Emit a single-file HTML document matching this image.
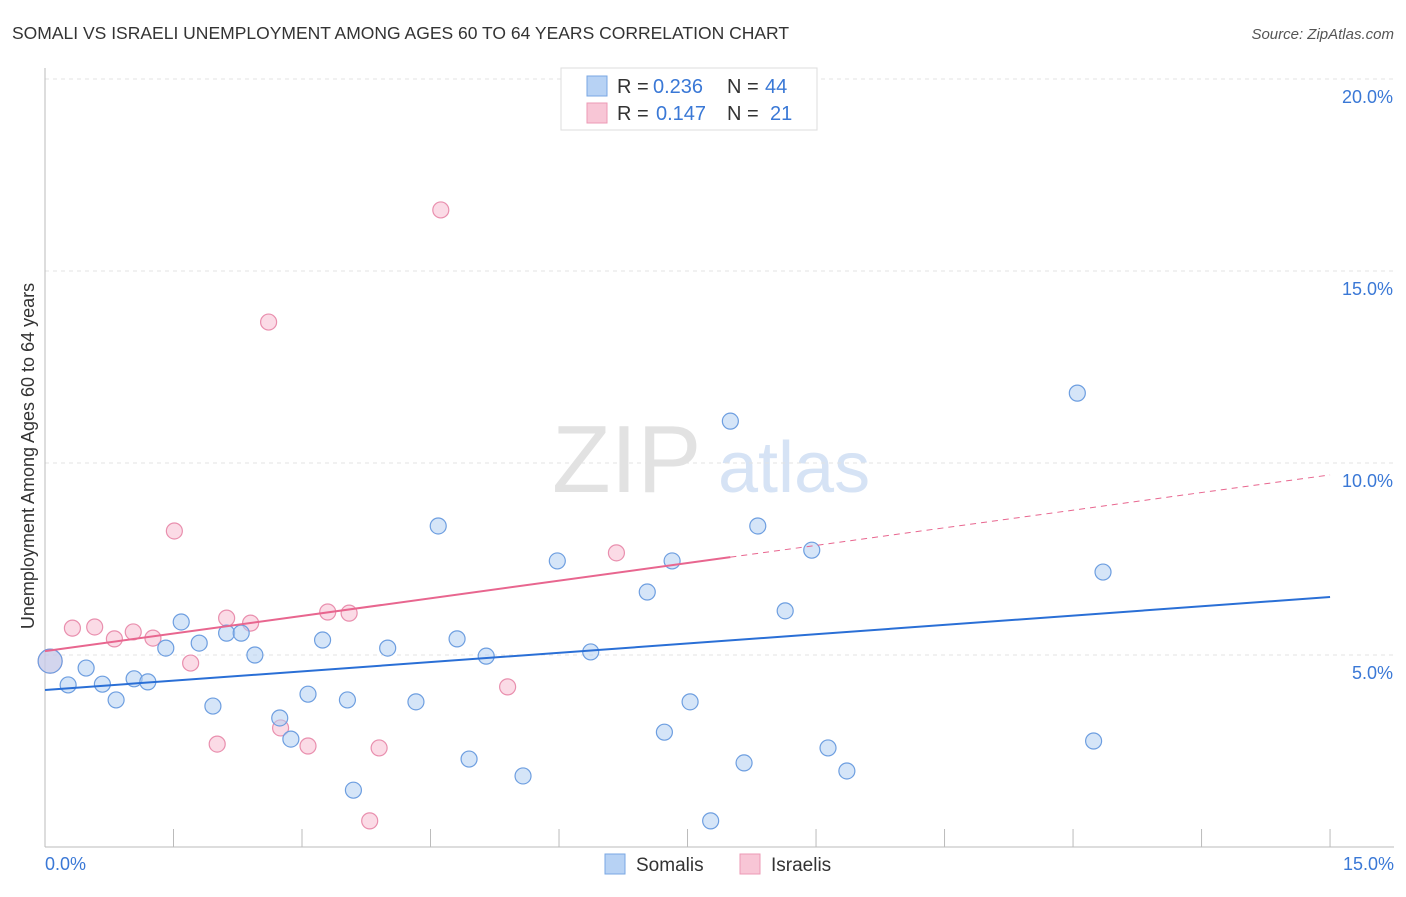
<!DOCTYPE html>
<html><head><meta charset="utf-8"><style>
body{margin:0;background:#fff;font-family:"Liberation Sans",sans-serif}
svg text{font-family:"Liberation Sans",sans-serif}
</style></head><body>
<svg width="1406" height="892" xmlns="http://www.w3.org/2000/svg">
<text x="12" y="39" font-size="17.5" fill="#333">SOMALI VS ISRAELI UNEMPLOYMENT AMONG AGES 60 TO 64 YEARS CORRELATION CHART</text>
<text x="1394" y="39" font-size="15" fill="#555" text-anchor="end" font-style="italic">Source: ZipAtlas.com</text>
<text x="552" y="492" font-size="96" fill="#e2e2e2" font-family="Liberation Serif">ZIP</text>
<text x="718" y="492" font-size="72" fill="#d6e3f5">atlas</text>
<g id="grid"></g>
<g id="axes"></g>
<g id="marks"></g>
<text transform="translate(34,456) rotate(-90)" font-size="18" fill="#333" text-anchor="middle">Unemployment Among Ages 60 to 64 years</text>
<g>
<rect x="561" y="68" width="256" height="62" fill="#fff" stroke="#ddd"/>
<rect x="587" y="76" width="20" height="20" fill="#b7d2f4" stroke="#7aa7e3"/>
<text x="617" y="93" font-size="20" fill="#333">R = </text><text x="653" y="93" font-size="20" fill="#3a78d6">0.236</text>
<text x="727" y="93" font-size="20" fill="#333">N = </text><text x="765" y="93" font-size="20" fill="#3a78d6">44</text>
<rect x="587" y="103" width="20" height="20" fill="#f8c6d6" stroke="#ec9ab5"/>
<text x="617" y="120" font-size="20" fill="#333">R = </text><text x="656" y="120" font-size="20" fill="#3a78d6">0.147</text>
<text x="727" y="120" font-size="20" fill="#333">N = </text><text x="770" y="120" font-size="20" fill="#3a78d6">21</text>
</g>
<g>
<rect x="605" y="854" width="20" height="20" fill="#b7d2f4" stroke="#7aa7e3"/>
<text x="636" y="871" font-size="19" fill="#333">Somalis</text>
<rect x="740" y="854" width="20" height="20" fill="#f8c6d6" stroke="#ec9ab5"/>
<text x="771" y="871" font-size="19" fill="#333">Israelis</text>
</g>
</svg>
<script>
const yTicks=[5,10,15,20];
const yTickLabels=["5.0%","10.0%","15.0%","20.0%"];
const xTickLabels=["0.0%","15.0%"];
const blueX=[0.06,0.27,0.48,0.67,0.83,1.04,1.20,1.41,1.59,1.80,1.96,2.12,2.29,2.45,2.74,2.87,3.07,3.24,3.53,3.60,4.00,4.33,4.59,4.81,4.95,5.15,5.58,5.98,6.37,7.03,7.23,7.32,7.53,7.77,8.00,8.16,8.32,8.64,8.95,9.14,9.36,12.05,12.24,12.35];
const blueY=[4.84,4.22,4.66,4.24,3.83,4.38,4.30,5.18,5.86,5.31,3.67,5.57,5.57,5.00,3.36,2.81,3.98,5.39,3.83,1.48,5.18,3.78,8.36,5.42,2.29,4.97,1.85,7.45,5.08,6.64,2.99,7.45,3.78,0.68,11.09,2.19,8.36,6.15,7.73,2.58,1.98,11.82,2.76,7.16];
const pinkX=[0.06,0.32,0.58,0.81,1.03,1.26,1.51,1.70,2.01,2.12,2.40,2.61,2.75,3.07,3.30,3.55,3.79,3.90,4.62,5.40,6.67];
const pinkY=[4.84,5.70,5.73,5.42,5.60,5.44,8.23,4.79,2.68,5.96,5.83,13.67,3.10,2.63,6.12,6.09,0.68,2.58,16.59,4.17,7.66];
const blueTrend=[4.09,6.51];
const pinkTrend=[5.10,9.69];
const pinkSolidEnd=8.0;
const NS="http://www.w3.org/2000/svg";
const X=v=>45+v*85.67, Y=v=>847-v*38.4;
function mk(tag,attrs,parent){const e=document.createElementNS(NS,tag);for(const k in attrs)e.setAttribute(k,attrs[k]);document.getElementById(parent).appendChild(e);return e;}
yTicks.forEach((t,i)=>{
 const g=mk('line',{x1:45,x2:1394,y1:Y(t),y2:Y(t),stroke:'#e3e3e3','stroke-dasharray':'4,4'},'grid');
 
 
 const tx=mk('text',{x:1393,y:Y(t)+24,'font-size':18,fill:'#3a78d6','text-anchor':'end'},'axes');tx.textContent=yTickLabels[i];
 
 
});
const ax=mk('line',{x1:45,x2:1394,y1:847,y2:847,stroke:'#bbb'},'axes');


const ay=mk('line',{x1:45,x2:45,y1:68,y2:847,stroke:'#bbb'},'axes');


for(let i=1;i<=10;i++){const t=mk('line',{x1:X(i*1.5),x2:X(i*1.5),y1:829,y2:847,stroke:'#bbb'},'axes');
 
 }
[[0,'start',45],[15,'end',1394]].forEach((d,i)=>{const t=mk('text',{x:d[2],y:870,'font-size':18,fill:'#3a78d6','text-anchor':d[1]},'axes');t.textContent=xTickLabels[i];
 
 });
function pts(xs,ys,fill,stroke,name){xs.forEach((x,i)=>{const c=mk('circle',{cx:X(x),cy:Y(ys[i]),r:i==0?12:8,fill:fill,'fill-opacity':0.55,stroke:stroke,'stroke-width':1.2},'marks');
 
 });}
pts(pinkX,pinkY,'#f7bed1','#e98fae','israeli-point');
pts(blueX,blueY,'#b3cff2','#6d9ee0','somali-point');
const bl=mk('line',{x1:X(0),y1:Y(blueTrend[0]),x2:X(15),y2:Y(blueTrend[1]),stroke:'#2a6fd6','stroke-width':2},'marks');


const pf=v=>pinkTrend[0]+(pinkTrend[1]-pinkTrend[0])*v/15;
const pl=mk('line',{x1:X(0),y1:Y(pf(0)),x2:X(pinkSolidEnd),y2:Y(pf(pinkSolidEnd)),stroke:'#e8668f','stroke-width':2},'marks');


const pd=mk('line',{x1:X(pinkSolidEnd),y1:Y(pf(pinkSolidEnd)),x2:X(15),y2:Y(pf(15)),stroke:'#e8668f','stroke-width':1,'stroke-dasharray':'6,5'},'marks');


</script>
</body></html>
